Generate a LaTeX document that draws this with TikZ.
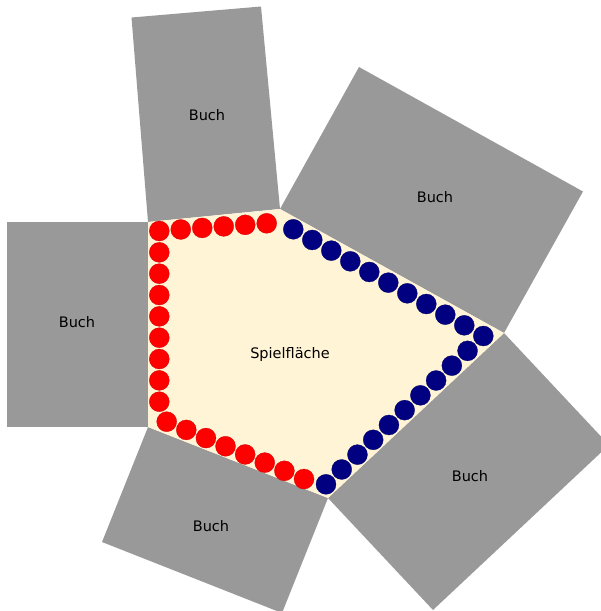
\documentclass[tikz,border=0pt]{standalone}
\usepackage{fontspec}
\setmainfont{DejaVu Sans}
\usetikzlibrary{calc}
\definecolor{buchgrau}{HTML}{999999}
\definecolor{spielfeld}{HTML}{FFF4D6}
\definecolor{rot}{HTML}{FF0000}
\definecolor{marine}{HTML}{000080}
\tikzset{
  buch/.style={fill=buchgrau, draw=none},
  etikett/.style={font=\fontsize{14.5}{17}\selectfont, text=black},
  roterstein/.style={circle, fill=rot, draw=rot!80!black, line width=0.3pt, minimum size=20pt, inner sep=0pt},
  blauerstein/.style={circle, fill=marine, draw=marine!80!black, line width=0.3pt, minimum size=20pt, inner sep=0pt}
}
\begin{document}
\begin{tikzpicture}[x=1pt,y=-1pt]
  \useasboundingbox (0,0) rectangle (601,611);
  \clip (0,0) rectangle (601,611);

  % corners of the playing area
  \coordinate (A) at (148,222);
  \coordinate (B) at (280,209);
  \coordinate (C) at (504,333);
  \coordinate (D) at (328,498);
  \coordinate (E) at (148,427);

  % books around the playing area
  \fill[buch] (7,222) -- (A) -- (E) -- (7,427) -- cycle;
  \fill[buch] (131.5,17.5) -- (261,6.5) -- (B) -- (A) -- cycle;
  \fill[buch] (B) -- (359,67) -- (583,191.5) -- (C) -- cycle;
  \fill[buch] (C) -- (609,445) -- (433,610) -- (D) -- cycle;
  \fill[buch] (E) -- (D) -- (282,613) -- (102,542) -- cycle;

  % playing area
  \fill[spielfeld] (A) -- (B) -- (C) -- (D) -- (E) -- cycle;

  % labels
  \node[etikett] (b1) at (207,115) {Buch};
  \node[etikett] (b2) at (435,197) {Buch};
  \node[etikett] (b3) at (77,322) {Buch};
  \node[etikett] (b4) at (470,476) {Buch};
  \node[etikett] (b5) at (211,526) {Buch};
  \node[etikett] (sp) at (290,354) {Spielfläche};

  % red stones
  \coordinate (r1) at (159.3,231);
  \coordinate (r2) at (266.7,223.3);
  \coordinate (r3) at (159.3,401.7);
  \coordinate (r4) at (166.7,421.7);
  \coordinate (r5) at (304,479);
  \foreach \i in {0,...,5}
    \node[roterstein] (rt\i) at ($(r1)!\i/5!(r2)$) {};
  \foreach \i in {1,...,8}
    \node[roterstein] (rl\i) at ($(r1)!\i/8!(r3)$) {};
  \foreach \i in {0,...,7}
    \node[roterstein] (rb\i) at ($(r4)!\i/7!(r5)$) {};

  % blue stones
  \coordinate (s1) at (293.3,229.3);
  \coordinate (s2) at (483.3,336);
  \coordinate (s3) at (326,484.3);
  \foreach \i in {0,...,10}
    \node[blauerstein] (st\i) at ($(s1)!\i/10!(s2)$) {};
  \foreach \i in {1,...,10}
    \node[blauerstein] (sb\i) at ($(s2)!\i/10!(s3)$) {};
\end{tikzpicture}
\end{document}
